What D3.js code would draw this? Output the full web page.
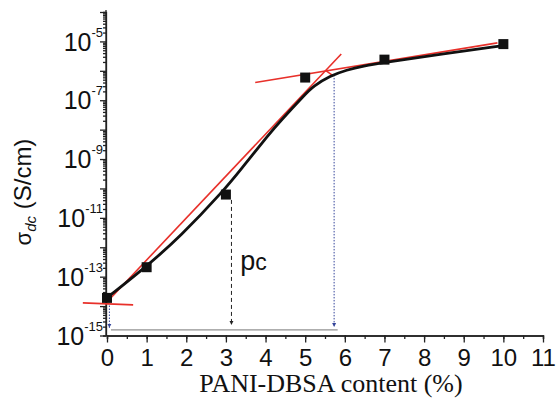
<!DOCTYPE html>
<html>
<head>
<meta charset="utf-8">
<script src="https://cdn.jsdelivr.net/npm/d3@7"></script>
<style>
  body { margin: 0; background: #fff; }
  svg { display: block; }
  .axis path, .axis line { stroke: #222; stroke-width: 1.3; }
  .axis text { font-family: Arial, "Liberation Sans", sans-serif; fill: #111; }
</style>
</head>
<body>
<svg id="chart" width="557" height="399"></svg>
<script>
  // measured points
  let content = [0, 1, 3, 5, 7, 10]
  let sigma = [1.9e-14, 2.1e-13, 6.2e-11, 5.9e-7, 2.4e-6, 8.1e-6]

  // black fitted curve (x, log10 sigma)
  let fit_x = [0, 0.98, 1.84, 2.98, 3.36, 4.11, 4.36, 5.0, 5.2, 5.63, 6.05, 6.46, 6.99, 8.5, 9.95]
  let fit_log = [-13.72, -12.67, -11.65, -10.02, -9.38, -8.12, -7.73, -6.8, -6.53, -6.17, -5.97, -5.84, -5.72, -5.42, -5.15]

  // red tangent lines, [x1, log1, x2, log2]
  let red_lines = [
    [-0.61, -13.89, 0.66, -13.96],
    [0, -13.86, 5.91, -5.43],
    [3.74, -6.40, 9.85, -5.05],
    [5.53, -6.0, 5.71, -6.17]
  ]

  // annotation arrows: x, from log, to log
  let pc_arrow = [3.14, -10.39, -14.64]
  let blue_arrow = [5.73, -6.14, -14.71]
  let zero_arrow = [0.06, -13.98, -14.74]
  let base_line = [0.1, 5.82, -14.81]

  let x_ticks = d3.range(0, 12)
  let x_minor = d3.range(0, 11.5, 0.5)
  let y_major = d3.range(-15, -3).map(k => Math.pow(10, k))
  let y_minor = d3.range(-15, -4).flatMap(k => d3.range(2, 10).map(m => m * Math.pow(10, k)))
  let y_labels = [-15, -13, -11, -9, -7, -5]

  let svg = d3.select("#chart")
  let x = d3.scaleLinear().domain([0, 11]).range([107, 543])
  let y = d3.scaleLog().domain([1e-15, 1e-4]).range([335.5, 12])
  let ly = v => y(Math.pow(10, v))

  let defs = svg.append("defs")
  function marker(id, color) {
    defs.append("marker")
      .attr("id", id)
      .attr("viewBox", "0 0 10 10")
      .attr("refX", 10).attr("refY", 5)
      .attr("markerWidth", 4).attr("markerHeight", 9)
      .attr("markerUnits", "userSpaceOnUse")
      .attr("orient", "auto")
      .append("path")
      .attr("d", "M0,0 L10,5 L0,10 Z")
      .attr("fill", color)
  }
  marker("arr_black", "#222")
  marker("arr_blue", "#34449a")

  // axes
  svg.append("g").attr("class", "axis")
    .attr("transform", "translate(0,335.5)")
    .call(d3.axisBottom(x).tickValues(x_minor).tickSize(3.5).tickFormat(""))
  let xa = svg.append("g").attr("class", "axis")
    .attr("transform", "translate(0,335.5)")
    .call(d3.axisBottom(x).tickValues(x_ticks).tickSize(7).tickSizeOuter(0))
  xa.selectAll(".tick text").attr("font-size", 24).attr("y", 13)

  svg.append("g").attr("class", "axis")
    .attr("transform", "translate(106,0)")
    .call(d3.axisLeft(y).tickValues(y_minor).tickSize(3).tickFormat(""))
  let ya = svg.append("g").attr("class", "axis")
    .attr("transform", "translate(106,0)")
    .call(d3.axisLeft(y).tickValues(y_major).tickSize(6).tickSizeOuter(0).tickFormat(""))
  ya.select(".domain").attr("d", `M0,${y(1e-4) - 2}V335.5`)
  ya.selectAll(".tick")
    .filter(d => y_labels.includes(Math.round(Math.log10(d))))
    .select("text")
    .attr("x", -3).attr("dy", "0.35em")
    .attr("font-size", 25)
    .attr("text-anchor", "end")
    .each(function(d) {
      let t = d3.select(this)
      t.append("tspan").text("10")
      t.append("tspan").attr("dy", -14).attr("font-size", 13)
        .text("-" + Math.abs(Math.round(Math.log10(d))))
    })

  // baseline and arrows
  svg.append("line")
    .attr("x1", x(base_line[0])).attr("x2", x(base_line[1]))
    .attr("y1", ly(base_line[2])).attr("y2", ly(base_line[2]))
    .attr("stroke", "#777").attr("stroke-width", 1)

  function arrow(a, color, dash, mk) {
    svg.append("line")
      .attr("x1", x(a[0])).attr("x2", x(a[0]))
      .attr("y1", ly(a[1])).attr("y2", ly(a[2]))
      .attr("stroke", color).attr("stroke-width", 1)
      .attr("stroke-dasharray", dash)
      .attr("marker-end", `url(#${mk})`)
  }
  arrow(pc_arrow, "#222", "4,3", "arr_black")
  arrow(blue_arrow, "#34449a", "1.5,1.5", "arr_blue")
  arrow(zero_arrow, "#34449a", "1.5,1.5", "arr_blue")

  // red lines
  svg.append("g").selectAll("line")
    .data(red_lines).enter()
    .append("line")
    .attr("x1", d => x(d[0])).attr("y1", d => ly(d[1]))
    .attr("x2", d => x(d[2])).attr("y2", d => ly(d[3]))
    .attr("stroke", "#e8302a").attr("stroke-width", 1.6)

  // fitted curve
  let fit = fit_x.map((v, i) => [v, fit_log[i]])
  svg.append("path")
    .datum(fit)
    .attr("d", d3.line().x(d => x(d[0])).y(d => ly(d[1])).curve(d3.curveBasis))
    .attr("fill", "none").attr("stroke", "#111").attr("stroke-width", 2.8)

  // squares
  svg.append("g").selectAll("rect")
    .data(content).enter()
    .append("rect")
    .attr("x", (d, i) => x(d) - 5)
    .attr("y", (d, i) => y(sigma[i]) - 5)
    .attr("width", 10).attr("height", 10)
    .attr("fill", "#111")

  // pc label
  let pc = svg.append("text")
    .attr("x", x(3.36)).attr("y", ly(-12.78))
    .attr("font-family", "Arial, 'Liberation Sans', sans-serif")
    .attr("font-size", 27).attr("fill", "#111")
  pc.append("tspan").text("p")
  pc.append("tspan").attr("font-size", 23).text("c")

  // axis titles
  svg.append("text")
    .attr("x", 331).attr("y", 392)
    .attr("text-anchor", "middle")
    .attr("font-family", "'Liberation Serif', 'Times New Roman', serif")
    .attr("font-size", 26).attr("fill", "#111")
    .text("PANI-DBSA content (%)")

  let yt = svg.append("text")
    .attr("transform", "translate(31,192) rotate(-90)")
    .attr("text-anchor", "middle")
    .attr("font-family", "Arial, 'Liberation Sans', sans-serif")
    .attr("font-size", 24).attr("fill", "#111")
  yt.append("tspan").attr("font-size", 22).text("σ")
  yt.append("tspan").attr("font-size", 15).attr("font-style", "italic").attr("dy", 5).text("dc")
  yt.append("tspan").attr("dy", -5).text(" (S/cm)")
</script>
</body>
</html>
